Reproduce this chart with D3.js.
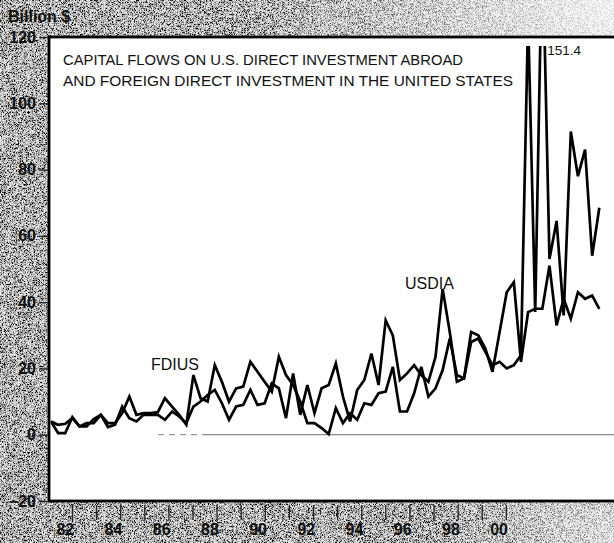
<!DOCTYPE html>
<html>
<head>
<meta charset="utf-8">
<script src="https://cdn.jsdelivr.net/npm/d3@7"></script>
<style>
  html, body { margin: 0; padding: 0; background: #fff; }
  svg { display: block; }
  text { font-family: "Liberation Sans", Arial, Helvetica, sans-serif; fill: #111; }
</style>
</head>
<body>
<svg id="chart" width="614" height="543"></svg>
<script>
// Quarterly capital flows, billions of dollars, 1982 Q1 through 2001 Q2
const firstYear = 1982;
const usdia = [
  4, 0.5, 0.5, 5.3, 2.5, 2.5, 4.7, 6, 2.3, 3,
  8.5, 5, 4, 6, 6, 6, 4.5, 7, 5.5, 3.5,
  8.5, 10, 12, 13.5, 9.5, 4.5, 8.5, 9, 13.5, 9,
  9.5, 15.5, 14, 5, 18.5, 6, 15, 6.5, 14, 15,
  21.5, 11.5, 4, 13.5, 16.5, 24.5, 15, 34.5, 30, 16.5,
  18.5, 21, 18, 16, 23.5, 44, 31, 16, 17, 31,
  30, 26, 19, 31, 43, 46, 22, 37, 38, 38,
  51, 33, 41, 35, 43, 41, 42, 38
];
const fdius = [
  4, 3, 3.3, 5, 2.5, 3.5, 3.5, 6, 3.5, 3.5,
  6.5, 11.5, 6, 6.5, 6.5, 6.8, 11, 8.5, 6, 3,
  18, 11, 10, 21, 16, 10, 14, 14.5, 22, 19,
  16, 13, 23.5, 18, 15, 10, 3.5, 3.5, 2, 0.2,
  8, 3.5, 6.5, 4.5, 9.5, 9, 12.5, 13, 20.5, 7,
  7, 12.5, 20.5, 11.5, 14, 19.5, 29, 18, 17, 28,
  29, 25, 21, 22, 20, 21, 24, 126, 37, 151.4,
  53, 64.5, 36, 91.5, 78, 86, 54, 68.5
];
const yTicks = [-20, 0, 20, 40, 60, 80, 100, 120];
const xTickYears = [1983, 1984, 1985, 1986, 1987, 1988, 1989, 1990, 1991, 1992,
                    1993, 1994, 1995, 1996, 1997, 1998, 1999, 2000, 2001];
const xLabelYears = [1982, 1984, 1986, 1988, 1990, 1992, 1994, 1996, 1998, 2000];
const xLabels = ["82", "84", "86", "88", "90", "92", "94", "96", "98", "00"];
const titleLines = [
  "CAPITAL FLOWS ON U.S. DIRECT INVESTMENT ABROAD",
  "AND FOREIGN DIRECT INVESTMENT IN THE UNITED STATES"
];
const unitLabel = "Billion $";
const peakValue = 151.4;

const W = 614, H = 543;
const plot = { left: 49, top: 37, bottom: 501, right: 660 };

const svg = d3.select("#chart");
const defs = svg.append("defs");

// speckled paper texture for the margins
const grain = defs.append("filter").attr("id", "grain")
  .attr("filterUnits", "userSpaceOnUse")
  .attr("x", 0).attr("y", 0).attr("width", W).attr("height", H)
  .attr("color-interpolation-filters", "sRGB");
grain.append("feTurbulence").attr("type", "fractalNoise")
  .attr("baseFrequency", 1.5).attr("numOctaves", 2).attr("seed", 11);
grain.append("feColorMatrix").attr("type", "matrix")
  .attr("values", "0 0 0 0 0  0 0 0 0 0  0 0 0 0 0  3.2 0 0 0 -1.35");

const fadeTR = defs.append("radialGradient").attr("id", "fadeTR")
  .attr("gradientUnits", "userSpaceOnUse")
  .attr("cx", 614).attr("cy", 0).attr("r", 380);
fadeTR.append("stop").attr("offset", 0).attr("stop-color", "#fff").attr("stop-opacity", 0.85);
fadeTR.append("stop").attr("offset", 1).attr("stop-color", "#fff").attr("stop-opacity", 0);

const fadeBR = defs.append("radialGradient").attr("id", "fadeBR")
  .attr("gradientUnits", "userSpaceOnUse")
  .attr("cx", 614).attr("cy", 543).attr("r", 190);
fadeBR.append("stop").attr("offset", 0).attr("stop-color", "#fff").attr("stop-opacity", 0.6);
fadeBR.append("stop").attr("offset", 1).attr("stop-color", "#fff").attr("stop-opacity", 0);

svg.append("rect").attr("width", W).attr("height", H).attr("fill", "#ebebeb");
svg.append("rect").attr("width", W).attr("height", H).attr("filter", "url(#grain)");
svg.append("rect").attr("width", W).attr("height", H).attr("fill", "url(#fadeTR)");
svg.append("rect").attr("width", W).attr("height", H).attr("fill", "url(#fadeBR)");

// data scale (quarters) and the printed year scale of the time axis
const x = d3.scaleLinear().domain([firstYear, 2001.25]).range([plot.left + 2, 599.3]);
const yearAxisScale = d3.scaleLinear().domain([1982, 2001]).range([47.9, 505.8]);
const y = d3.scaleLinear().domain([-20, 120]).range([plot.bottom, plot.top]);
const quarterX = (d, i) => x(firstYear + i / 4);

// plot frame
svg.append("rect")
  .attr("x", plot.left).attr("y", plot.top)
  .attr("width", plot.right - plot.left).attr("height", plot.bottom - plot.top)
  .attr("fill", "#fff").attr("stroke", "#000").attr("stroke-width", 2.8);

defs.append("clipPath").attr("id", "plotClip")
  .append("rect").attr("x", plot.left + 1.5).attr("y", 46)
  .attr("width", plot.right - plot.left).attr("height", plot.bottom - 47.5);

// zero reference line
const zeroY = y(0);
svg.append("line")
  .attr("x1", 158).attr("x2", 203).attr("y1", zeroY).attr("y2", zeroY)
  .attr("stroke", "#999").attr("stroke-width", 1.3).attr("stroke-dasharray", "6,5");
svg.append("line")
  .attr("x1", 203).attr("x2", W).attr("y1", zeroY).attr("y2", zeroY)
  .attr("stroke", "#888").attr("stroke-width", 1.3);

// title
const title = svg.append("g");
titleLines.forEach((t, k) => {
  title.append("text")
    .attr("x", 63).attr("y", 65 + k * 21)
    .attr("font-size", 15.5)
    .attr("textLength", k === 0 ? 400 : 450)
    .attr("lengthAdjust", "spacingAndGlyphs")
    .text(t);
});

// series lines
const line = d3.line().x(quarterX).y(d => y(d)).curve(d3.curveLinear);
const lines = svg.append("g").attr("clip-path", "url(#plotClip)");
[usdia, fdius].forEach(series => {
  lines.append("path").datum(series)
    .attr("d", line)
    .attr("fill", "none").attr("stroke", "#000")
    .attr("stroke-width", 2.7).attr("stroke-linejoin", "miter")
    .attr("stroke-miterlimit", 4);
});

// series labels
svg.append("text").attr("x", 151).attr("y", 370).attr("font-size", 16).text("FDIUS");
svg.append("text").attr("x", 405).attr("y", 289).attr("font-size", 16).text("USDIA");
const peakIndex = fdius.indexOf(peakValue);
svg.append("text")
  .attr("x", quarterX(null, peakIndex) + 5).attr("y", 55)
  .attr("font-size", 13.5).text(d3.format(".1f")(peakValue));

// y axis
const yAxis = d3.axisLeft(y).tickValues(yTicks).tickSize(9).tickPadding(3)
  .tickFormat(d3.format("d"));
const yg = svg.append("g").attr("transform", `translate(${plot.left - 1},0)`).call(yAxis);
yg.select(".domain").remove();
yg.selectAll(".tick line").attr("stroke", "#222").attr("stroke-width", 1.3);
yg.selectAll(".tick text").attr("font-size", 16).attr("font-weight", "bold").attr("fill", "#111")
  .attr("font-family", "'Liberation Sans', Arial, sans-serif");

// x axis: year ticks hang below the frame
const xTickAxis = d3.axisBottom(yearAxisScale).tickValues(xTickYears).tickSize(15).tickFormat("");
const xt = svg.append("g").attr("transform", `translate(0,${plot.bottom + 4})`).call(xTickAxis);
xt.select(".domain").remove();
xt.selectAll(".tick line").attr("stroke", "#222").attr("stroke-width", 1.3);

const xLabelAxis = d3.axisBottom(yearAxisScale).tickValues(xLabelYears.map(v => v + 0.7))
  .tickSize(0).tickPadding(0).tickFormat((d, i) => xLabels[i]);
const xl = svg.append("g").attr("transform", `translate(0,${plot.bottom + 23})`).call(xLabelAxis);
xl.select(".domain").remove();
xl.selectAll(".tick text").attr("font-size", 16).attr("font-weight", "bold").attr("fill", "#111")
  .attr("font-family", "'Liberation Sans', Arial, sans-serif");

// unit label
svg.append("text").attr("x", 8).attr("y", 22)
  .attr("font-size", 16).attr("font-weight", "bold").text(unitLabel);
</script>
</body>
</html>
